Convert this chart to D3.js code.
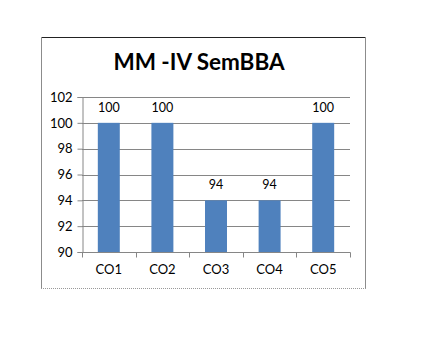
<!DOCTYPE html>
<html>
<head>
<meta charset="utf-8">
<script src="https://cdn.jsdelivr.net/npm/d3@7"></script>
<style>
  body { margin: 0; background: #fff; }
  text { font-family: Lato, "Open Sans", sans-serif; fill: #000; }
</style>
</head>
<body>
<div id="chart"></div>
<script>
var categories = ["CO1", "CO2", "CO3", "CO4", "CO5"];
var scores = [100, 100, 94, 94, 100];
var yTicks = [90, 92, 94, 96, 98, 100, 102];
var title = "MM -IV SemBBA";

var width = 427, height = 353;
var plotLeft = 82, plotRight = 350, plotTop = 97, plotBottom = 252;

var svg = d3.select("#chart").append("svg")
    .attr("width", width)
    .attr("height", height);

// chart frame: dark top, grey sides, dotted bottom
svg.append("line")
    .attr("x1", 41).attr("x2", 366).attr("y1", 37.5).attr("y2", 37.5)
    .attr("stroke", "#222");
svg.append("line")
    .attr("x1", 41.5).attr("x2", 41.5).attr("y1", 37).attr("y2", 289)
    .attr("stroke", "#8c8c8c");
svg.append("line")
    .attr("x1", 365.5).attr("x2", 365.5).attr("y1", 37).attr("y2", 289)
    .attr("stroke", "#8c8c8c");
svg.append("line")
    .attr("x1", 41).attr("x2", 366).attr("y1", 288.5).attr("y2", 288.5)
    .attr("stroke", "#999")
    .attr("stroke-dasharray", "1,1");

var x = d3.scaleBand()
    .domain(categories)
    .range([plotLeft, plotRight])
    .paddingInner(0.59)
    .paddingOuter(0.295);

var xOuter = d3.scaleBand()
    .domain(categories)
    .range([plotLeft, plotRight]);

var y = d3.scaleLinear()
    .domain([90, 102])
    .range([plotBottom, plotTop]);

// gridlines
svg.append("g").selectAll("line")
    .data(yTicks)
  .enter().append("line")
    .attr("x1", plotLeft).attr("x2", plotRight)
    .attr("y1", function(d) { return Math.round(y(d)) + 0.5; })
    .attr("y2", function(d) { return Math.round(y(d)) + 0.5; })
    .attr("stroke", "#868686");

// bars
svg.append("g").selectAll("rect")
    .data(scores)
  .enter().append("rect")
    .attr("x", function(d, i) { return x(categories[i]); })
    .attr("width", x.bandwidth())
    .attr("y", function(d) { return y(d); })
    .attr("height", function(d) { return y(90) - y(d); })
    .attr("fill", "#4f81bd");

// data labels
svg.append("g").selectAll("text")
    .data(scores)
  .enter().append("text")
    .attr("x", function(d, i) { return x(categories[i]) + x.bandwidth() / 2; })
    .attr("y", function(d) { return y(d) - 11; })
    .attr("text-anchor", "middle")
    .style("font-size", "12.5px")
    .text(function(d) { return d; });

// y axis
var yAxis = svg.append("g")
    .attr("transform", "translate(" + (plotLeft + 0.5) + ",0)")
    .call(d3.axisLeft(y).tickValues(yTicks).tickSize(5).tickPadding(5));
yAxis.selectAll("line, path").attr("stroke", "#868686");
yAxis.selectAll("text").style("font-size", "13px").attr("font-family", null);

// x axis
var xAxis = svg.append("g")
    .attr("transform", "translate(0," + (Math.round(y(90)) + 0.5) + ")");
xAxis.append("line")
    .attr("x1", plotLeft).attr("x2", plotRight + 0.5)
    .attr("stroke", "#868686");
xAxis.selectAll(".tk")
    .data(categories.concat(["end"]))
  .enter().append("line")
    .attr("class", "tk")
    .attr("x1", function(d, i) { return Math.round(plotLeft + i * xOuter.step()) + 0.5; })
    .attr("x2", function(d, i) { return Math.round(plotLeft + i * xOuter.step()) + 0.5; })
    .attr("y1", 0).attr("y2", 5)
    .attr("stroke", "#868686");
xAxis.selectAll(".lbl")
    .data(categories)
  .enter().append("text")
    .attr("class", "lbl")
    .attr("x", function(d) { return xOuter(d) + xOuter.bandwidth() / 2; })
    .attr("y", 21)
    .attr("text-anchor", "middle")
    .style("font-size", "13px")
    .text(function(d) { return d; });

// title
svg.append("text")
    .attr("x", 199)
    .attr("y", 70)
    .attr("text-anchor", "middle")
    .style("font-size", "22.5px")
    .style("font-weight", "bold")
    .text(title);
</script>
</body>
</html>
